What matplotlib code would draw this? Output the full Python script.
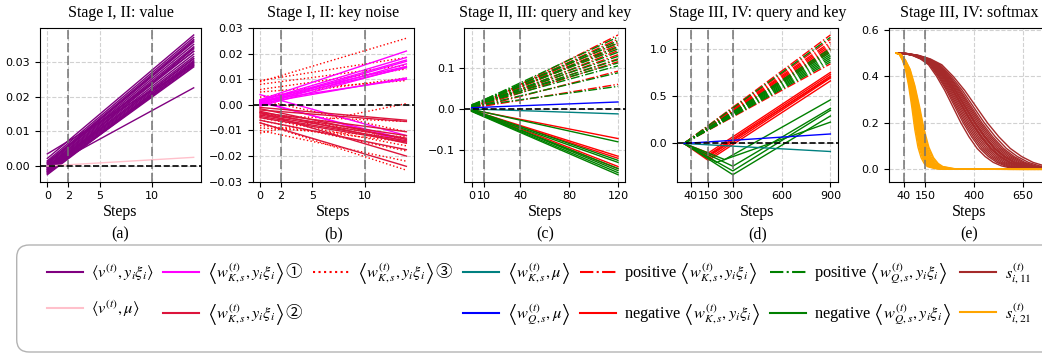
import numpy as np
import matplotlib.pyplot as plt
from matplotlib.lines import Line2D
from matplotlib.patches import FancyBboxPatch

plt.rcParams['mathtext.fontset'] = 'stix'
plt.rcParams['font.size'] = 8

SERIF = 'Liberation Serif'
W, H = 1042, 354

# ---------------- data ----------------
# (a) value, lines from step 0 to step 14
a_steps = [0, 14]
a_val_start = [0.0035, 0.0022, 0.0015, 0.0010, 0.0006, 0.0003, 0.0000, -0.0002, -0.0004, -0.0006, -0.0008, -0.0010,
               -0.0012, -0.0014, -0.0016, -0.0018, -0.0020, -0.0022, -0.0025, 0.0008, -0.0005, 0.0012, -0.0015, -0.0010]
a_val_end = [0.0290, 0.0377, 0.0370, 0.0364, 0.0357, 0.0350, 0.0343, 0.0337, 0.0330, 0.0322, 0.0315, 0.0310,
             0.0303, 0.0298, 0.0292, 0.0288, 0.0285, 0.0300, 0.0295, 0.0360, 0.0225, 0.0330, 0.0340, 0.0308]
a_mu = [0.0, 0.0025]

# (b) key noise
b_steps = [0, 14]
b_k1_start = [0.002, 0.0015, 0.001, 0.0005, 0.0, 0.002, 0.001, 0.0005, 0.0015, -0.0005, 0.004, 0.001, 0.0015]
b_k1_end = [0.021, 0.0185, 0.0175, 0.017, 0.016, 0.015, 0.0145, 0.0105, 0.010, 0.0148, -0.012, -0.0135, -0.0145]
b_k2_start = [-0.001, -0.002, -0.003, -0.0035, -0.004, -0.0045, -0.005, -0.006, -0.007, -0.0025, -0.0015, -0.003]
b_k2_end = [-0.006, -0.0065, -0.0105, -0.012, -0.013, -0.014, -0.0145, -0.0175, -0.024, -0.015, -0.0135, -0.020]
b_k3_start = [0.009, 0.0095, 0.008, 0.006, 0.005, 0.003, -0.011, -0.004, -0.009, -0.008, -0.005, -0.010,
              -0.007, 0.002, -0.003, -0.006]
b_k3_end = [0.026, 0.0185, 0.0155, 0.014, 0.0095, 0.0105, 0.0005, -0.0065, -0.0125, -0.0145, -0.016, -0.022,
            -0.0255, -0.0105, -0.0135, -0.018]

# (c) query and key, stage II/III
c_steps = [0, 120]
c_posk_start = [0.0, 0.002, 0.003, 0.001, 0.004, 0.0, 0.002, 0.003, 0.001, 0.0, 0.002]
c_posk_end = [0.180, 0.170, 0.162, 0.156, 0.150, 0.142, 0.132, 0.122, 0.115, 0.092, 0.060]
c_posq_start = [0.008, 0.006, 0.010, 0.007, 0.009, 0.005, 0.008, 0.006, 0.010, 0.007, 0.004, 0.006]
c_posq_end = [0.175, 0.166, 0.160, 0.152, 0.146, 0.138, 0.128, 0.120, 0.112, 0.105, 0.088, 0.055]
c_negk_start = [-0.002, -0.003, -0.004, -0.002, -0.005]
c_negk_end = [-0.072, -0.115, -0.120, -0.140, -0.145]
c_negq_start = [-0.001, -0.002, -0.004, -0.003, -0.005, -0.006, -0.004]
c_negq_end = [-0.080, -0.125, -0.130, -0.150, -0.155, -0.160, -0.145]
c_qmu = [0.003, 0.017]
c_kmu = [0.0, -0.012]

# (d) query and key, stage III/IV
d_steps = [0, 900]
d_posk_end = [1.145, 1.10, 1.07, 1.05, 1.03, 1.01, 0.99, 0.97, 0.84]
d_posq_end = [1.12, 1.00, 0.98, 0.96, 0.94, 0.92, 0.90, 0.88, 0.86]
d_negk_turn = [150, 150, 150, 150, 150, 150]
d_negk_min = [-0.10, -0.12, -0.14, -0.16, -0.18, -0.13]
d_negk_end = [0.75, 0.73, 0.71, 0.69, 0.66, 0.70]
d_negq_turn = [250, 300, 300, 300, 200]
d_negq_min = [-0.17, -0.24, -0.29, -0.33, -0.20]
d_negq_end = [0.46, 0.37, 0.35, 0.29, 0.225]
d_qmu = [0.0, 0.10]
d_kmu = [0.0, -0.085]

# (e) softmax, typical curve and per-run time scale
e_s11_steps = [0, 50, 100, 150, 200, 250, 300, 350, 400, 450, 500, 550, 600, 650, 700, 750]
e_s11 = [0.5, 0.498, 0.49, 0.475, 0.45, 0.40, 0.34, 0.27, 0.20, 0.14, 0.09, 0.055, 0.03, 0.015, 0.007, 0.003]
e_s11_scale = [0.83, 0.86, 0.88, 0.9, 0.92, 0.94, 0.96, 0.97, 0.98, 1.0, 1.01, 1.02, 1.04, 1.06, 1.08, 1.1, 1.13, 1.17]
e_s21_steps = [0, 20, 40, 60, 80, 100, 120, 140, 160, 180, 200, 250, 300, 750]
e_s21 = [0.5, 0.495, 0.47, 0.43, 0.36, 0.27, 0.17, 0.095, 0.05, 0.025, 0.012, 0.003, 0.001, 0.0]
e_s21_scale = [0.8, 0.84, 0.87, 0.9, 0.92, 0.95, 0.97, 1.0, 1.02, 1.05, 1.08, 1.1, 1.13, 1.17, 1.2]

# ---------------- figure ----------------
fig = plt.figure(figsize=(W / 100, H / 100), dpi=100)
lefts = [40, 252.7, 464.3, 676.7, 888.8]
axes = [fig.add_axes([l / W, (H - 181.7) / H, 161 / W, 153.7 / H]) for l in lefts]


def style(ax, title, letter, xticks, vlines, zero=True):
    ax.set_title(title, family=SERIF, fontsize=11.5, pad=8)
    ax.set_xticks(xticks)
    ax.grid(True, color='0.82', ls='--', lw=0.8)
    ax.set_axisbelow(True)
    for v in vlines:
        ax.axvline(v, color='0.45', ls=(0, (6, 2.5)), lw=1.1, zorder=3)
    if zero:
        ax.axhline(0, color='k', ls='--', lw=1.2, zorder=4)
    ax.set_xlabel('Steps', family=SERIF, fontsize=11.5)
    ax.xaxis.label.set_va('center')
    ax.xaxis.set_label_coords(0.5, -0.195)
    ax.text(0.5, -0.34, letter, transform=ax.transAxes, ha='center', va='center', family=SERIF, fontsize=11.5)
    ax.tick_params(labelsize=8, length=3.5)


lw = 1.0
ax = axes[0]
for s, e in zip(a_val_start, a_val_end):
    ax.plot(a_steps, [s, e], color='purple', lw=lw)
ax.plot(a_steps, a_mu, color='pink', lw=lw)
style(ax, 'Stage I, II: value', '(a)', [0, 2, 5, 10], [2, 10])

ax = axes[1]
for s, e in zip(b_k3_start, b_k3_end):
    ax.plot(b_steps, [s, e], color='red', ls=':', lw=lw)
for s, e in zip(b_k1_start, b_k1_end):
    ax.plot(b_steps, [s, e], color='magenta', lw=lw)
for s, e in zip(b_k2_start, b_k2_end):
    ax.plot(b_steps, [s, e], color='crimson', lw=lw)
ax.set_ylim(-0.03, 0.03)
style(ax, 'Stage I, II: key noise', '(b)', [0, 2, 5, 10], [2, 10])

ax = axes[2]
for s, e in zip(c_posk_start, c_posk_end):
    ax.plot(c_steps, [s, e], color='red', ls='-.', lw=lw)
for s, e in zip(c_posq_start, c_posq_end):
    ax.plot(c_steps, [s, e], color='green', ls='-.', lw=lw)
for s, e in zip(c_negk_start, c_negk_end):
    ax.plot(c_steps, [s, e], color='red', lw=lw)
for s, e in zip(c_negq_start, c_negq_end):
    ax.plot(c_steps, [s, e], color='green', lw=lw)
ax.plot(c_steps, c_kmu, color='teal', lw=lw)
ax.plot(c_steps, c_qmu, color='blue', lw=lw)
style(ax, 'Stage II, III: query and key', '(c)', [0, 10, 40, 80, 120], [10, 40])

ax = axes[3]
for e in d_posk_end:
    ax.plot(d_steps, [0, e], color='red', ls='-.', lw=lw)
for e in d_posq_end:
    ax.plot(d_steps, [0, e], color='green', ls='-.', lw=lw)
for t, m, e in zip(d_negk_turn, d_negk_min, d_negk_end):
    ax.plot([d_steps[0], t, d_steps[1]], [0, m, e], color='red', lw=lw)
for t, m, e in zip(d_negq_turn, d_negq_min, d_negq_end):
    ax.plot([d_steps[0], t, d_steps[1]], [0, m, e], color='green', lw=lw)
ax.plot(d_steps, d_kmu, color='teal', lw=lw)
ax.plot(d_steps, d_qmu, color='blue', lw=lw)
style(ax, 'Stage III, IV: query and key', '(d)', [40, 150, 300, 600, 900], [40, 150, 300])

ax = axes[4]
for k in e_s11_scale:
    ax.plot(np.array(e_s11_steps) * k, e_s11, color='brown', lw=lw)
for k in e_s21_scale:
    ax.plot(np.array(e_s21_steps) * k, e_s21, color='orange', lw=lw)
ax.set_xlim(-37.5, 787.5)
ax.set_ylim(-0.053, 0.608)
ax.set_yticks([0, 0.2, 0.4, 0.6])
style(ax, 'Stage III, IV: softmax', '(e)', [40, 150, 400, 650], [40, 150], zero=False)

# ---------------- legend ----------------
LSIZE = 11.8
kys = r'\left\langle w_{K,s}^{(t)}, y_i\xi_i\right\rangle'
qys = r'\left\langle w_{Q,s}^{(t)}, y_i\xi_i\right\rangle'
entries = [
    ('purple', '-', r'$\langle v^{(t)}, y_i\xi_i\rangle$'),
    ('pink', '-', r'$\langle v^{(t)}, \mu\rangle$'),
    ('magenta', '-', '$' + kys + r'\,$①'),
    ('crimson', '-', '$' + kys + r'\,$②'),
    ('red', ':', '$' + kys + r'\,$③'),
    (None, '-', ''),
    ('teal', '-', r'$\left\langle w_{K,s}^{(t)}, \mu\right\rangle$'),
    ('blue', '-', r'$\left\langle w_{Q,s}^{(t)}, \mu\right\rangle$'),
    ('red', '-.', 'positive $' + kys + '$'),
    ('red', '-', 'negative $' + kys + '$'),
    ('green', '-.', 'positive $' + qys + '$'),
    ('green', '-', 'negative $' + qys + '$'),
    ('brown', '-', r'$s_{i,11}^{(t)}$'),
    ('orange', '-', r'$s_{i,21}^{(t)}$'),
]
handles = []
for c, ls, lab in entries:
    if c is None:
        handles.append(Line2D([], [], alpha=0))
    else:
        handles.append(Line2D([], [], color=c, ls=ls, lw=1.5))
leg = fig.legend(handles, [e[2] for e in entries], ncol=7, loc='center left',
                 bbox_to_anchor=(47 / W, (H - 294) / H), frameon=False, borderpad=0, borderaxespad=0,
                 prop={'family': SERIF, 'size': LSIZE},
                 handlelength=2.2, handletextpad=0.5, columnspacing=0.55, labelspacing=0.95)
# circled numbers: the only non-math text in these labels, so give them a font that has the glyphs
for txt, (c, ls, lab) in zip(leg.get_texts(), entries):
    if lab.endswith(('①', '②', '③')):
        txt.set_fontfamily('Noto Sans CJK SC')

box = FancyBboxPatch((16.7 / W, 2 / H), 1.06, 107 / H, boxstyle='round,pad=0,rounding_size=0.012',
                     mutation_aspect=W / H, transform=fig.transFigure, fc='white', ec='0.7', lw=1.0, zorder=-1)
fig.add_artist(box)

fig.savefig('out.png', dpi=100)
